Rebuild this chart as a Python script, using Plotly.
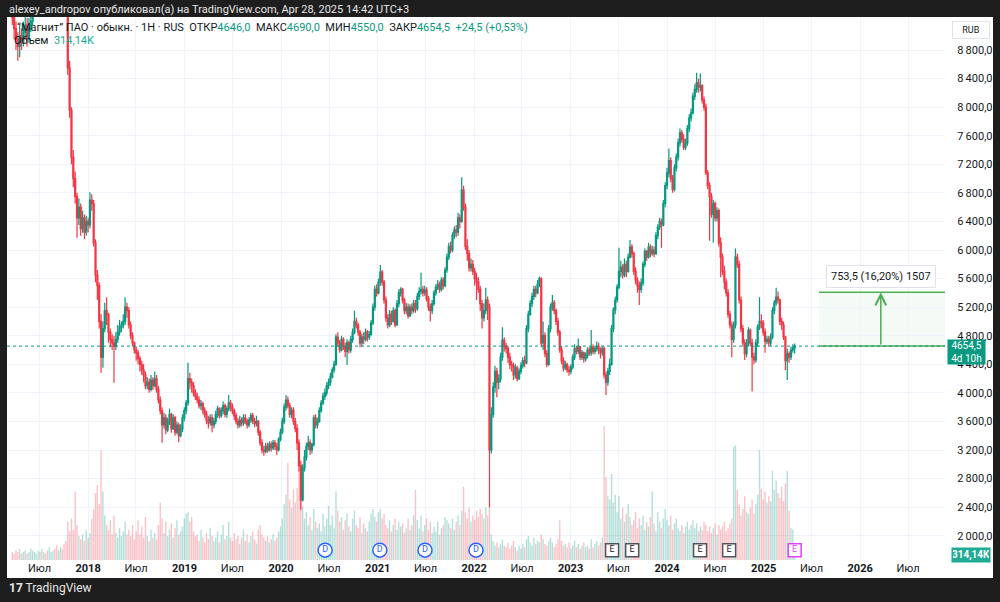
import plotly.graph_objects as go
import pandas as pd

# ---------------- data (weekly) ----------------
end_date = "2025-04-28"
first_open = 9300

close = [
    9250, 9100, 8950, 8850, 9000, 8900, 9050, 9150, 8950, 9100, 9200, 9350, 9500,           # 0-12
    9650, 9800, 9700, 9900, 10100, 10000, 9850, 9950, 10200, 10300, 10150, 9950, 10050,
    10200, 10100, 9900, 9700,                                                               # 13-29
    8550, 7960, 7300, 7000, 6750, 6450, 6600, 6300, 6450,                                   # 30-38
    6250, 6400, 6350, 6700, 6650, 6100, 5650, 5500, 5000, 4500,                             # 39-48
    4900, 5150, 5100, 4850, 4750, 4700, 4650, 4750,                                         # 49-56
    4850, 4920, 4950, 5000, 5200, 5150,                                                     # 57-62
    4950, 4800, 4700, 4600, 4560, 4480, 4400, 4320, 4250, 4100,                             # 63-72
    4150, 4050, 4180, 4100, 4200, 4050,                                                     # 73-78
    3900, 3750, 3550, 3650, 3480, 3600, 3700, 3500, 3650, 3450, 3550, 3400, 3500,           # 79-91
    3650, 3750, 3860, 4200, 4150, 4100, 4000, 3950,                                         # 92-99
    3900, 3820, 3850, 3760, 3700, 3620, 3580, 3650, 3550, 3600,                             # 100-109
    3700, 3780, 3680, 3750, 3820, 3700, 3780, 3860, 3800, 3750,                             # 110-119
    3680, 3600, 3550, 3620, 3580, 3650, 3600, 3550, 3620, 3680, 3600, 3570, 3600,           # 120-132
    3450, 3300, 3200, 3180, 3250, 3200, 3280, 3230, 3300, 3250, 3200, 3350, 3450,           # 133-145
    3600, 3800, 3900, 3820, 3700, 3760, 3600, 3500,                                         # 146-153
    3300, 2980, 2500,                                                                       # 154-156
    2950, 3100, 3250, 3300, 3200, 3280, 3650, 3550, 3600,                                   # 157-165
    3750, 3860, 3950, 4000, 4100, 4150, 4220,                                               # 166-172
    4320, 4400, 4780, 4700, 4600, 4750, 4650, 4580, 4700, 4600,                             # 173-182
    4750, 4850, 5000, 4950, 4850, 4700, 4780, 4750, 4850, 4780, 4820, 4980,                 # 183-194
    5200, 5450, 5400, 5550, 5690, 5550, 5300, 5050, 4950,                                   # 195-203
    5100, 5000, 5150, 4950, 5250, 5400, 5450,                                               # 204-210
    5300, 5150, 5200, 5080, 5200, 5150, 5250, 5180,                                         # 211-218
    5350, 5420, 5450, 5400, 5440, 5320, 5200, 5150, 5250,                                   # 219-227
    5400, 5480, 5520, 5450, 5580, 5500, 5720, 5900,                                         # 228-235
    6050, 6000, 6200, 6280, 6250, 6450, 6400, 6840, 6600,                                   # 236-244
    6050, 5950, 5750, 5800, 5700, 5600, 5550, 5450, 5250, 5050, 5150, 5300, 5200,           # 245-257
    3200, 3700, 4080, 4300, 4150, 4200,                                                     # 258-263
    4500, 4740, 4650,                                                                       # 264-266
    4620, 4500, 4400, 4380, 4250, 4350, 4200, 4300,                                         # 267-274
    4380, 4450, 4420, 4900, 5100,                                                           # 275-279
    5250, 5350, 5450, 5400, 5520, 5600, 4700,                                               # 280-286
    4800, 4550, 4400, 4900, 5200, 5260, 5150, 5000, 4850,                                   # 287-295
    4600, 4450, 4350, 4400, 4320, 4300, 4360,                                               # 296-302
    4500, 4620, 4580, 4640, 4500, 4560, 4480, 4520,                                         # 303-310
    4600, 4560, 4640, 4580, 4620, 4650, 4600, 4560, 4620,                                   # 311-319
    4250, 4150, 4300, 4400, 4900, 5160, 5300,                                               # 320-326
    5480, 5700, 5760, 5650, 5800, 5700, 5900, 6040, 5950,                                   # 327-335
    5700, 5580, 5500, 5450, 5540, 5800, 5980, 5900,                                         # 336-343
    6040, 5950, 6000, 5950, 6200, 6320, 6400, 6350, 6650,                                   # 344-352
    6900, 7080, 7250, 7000, 6850, 7150, 7300, 7500, 7640,                                   # 353-361
    7550, 7440, 7500, 7700, 7850, 7920, 8150,                                               # 362-368
    8250, 8340, 8280, 8300, 8100, 8000, 7080,                                               # 369-375
    6900, 6750, 6500, 6650, 6450, 6550, 6100, 5900,                                         # 376-383
    5700, 5550, 5400, 5100, 4950, 4750, 4950, 5900,                                         # 384-391
    5800, 5300, 4900, 4700, 4550, 4700, 4880,                                               # 392-398
    4700, 4500, 4460, 4700, 4920, 5000, 4980,                                               # 399-405
    4850, 4720, 4750, 4700, 4780, 5150, 5260,                                               # 406-412
    5340, 5300, 5000, 4950, 4780, 4450,                                                     # 413-418
    4550, 4500, 4600, 4630, 4654.5,                                                         # 419-423
]

high = [
    9450, 9350, 9200, 9050, 9150, 9100, 9200, 9300, 9250, 9250, 9350, 9500, 9700,
    9800, 9950, 9900, 10050, 10250, 10200, 10050, 10100, 10350, 10450, 10350, 10200, 10200,
    10350, 10300, 10150, 9950,
    9750, 8650, 8000, 7400, 7100, 6800, 6720, 6650, 6550,
    6500, 6480, 6450, 6810, 6780, 6700, 6150, 5720, 5550, 5100,
    5000, 5260, 5340, 5120, 4900, 4820, 4800, 4850,
    4950, 5020, 5000, 5100, 5340, 5260,
    5200, 5000, 4850, 4720, 4650, 4600, 4520, 4450, 4400, 4300,
    4220, 4200, 4250, 4220, 4300, 4250,
    4100, 3950, 3800, 3720, 3700, 3650, 3780, 3720, 3700, 3680, 3600, 3580, 3560,
    3700, 3800, 3900, 4420, 4280, 4200, 4150, 4050,
    4000, 3950, 3900, 3880, 3800, 3750, 3680, 3700, 3700, 3650,
    3750, 3820, 3800, 3800, 3880, 3850, 3820, 3970, 3900, 3850,
    3780, 3720, 3650, 3680, 3660, 3700, 3700, 3640, 3660, 3720, 3720, 3650, 3680,
    3620, 3480, 3350, 3260, 3300, 3300, 3320, 3320, 3340, 3340, 3300, 3380, 3500,
    3650, 3850, 3970, 3950, 3860, 3800, 3800, 3650,
    3560, 3350, 3050,
    3000, 3200, 3300, 3400, 3350, 3300, 3690, 3700, 3650,
    3800, 3900, 4000, 4060, 4150, 4200, 4280,
    4360, 4450, 4820, 4850, 4740, 4800, 4780, 4700, 4750, 4730,
    4800, 4900, 5150, 5050, 4980, 4880, 4830, 4850, 4900, 4880, 4870, 5020,
    5250, 5500, 5520, 5600, 5790, 5720, 5580, 5350, 5100,
    5160, 5150, 5200, 5180, 5300, 5450, 5480,
    5470, 5330, 5260, 5250, 5240, 5250, 5300, 5300,
    5400, 5480, 5680, 5500, 5500, 5480, 5360, 5250, 5300,
    5440, 5520, 5580, 5560, 5620, 5620, 5760, 5950,
    6100, 6120, 6250, 6330, 6350, 6520, 6500, 7020, 6900,
    6650, 6150, 6000, 5880, 5860, 5750, 5680, 5620, 5500, 5300, 5250, 5470, 5350,
    5250, 3800, 4150, 4380, 4350, 4260,
    4560, 4920, 4780,
    4700, 4660, 4560, 4450, 4420, 4400, 4380, 4340,
    4430, 4500, 4520, 4950, 5150,
    5300, 5400, 5500, 5500, 5580, 5630, 5620,
    5000, 4850, 4600, 4950, 5250, 5370, 5300, 5180, 5050,
    4880, 4650, 4500, 4450, 4420, 4380, 4400,
    4540, 4680, 4660, 4760, 4660, 4600, 4580, 4570,
    4640, 4640, 4880, 4680, 4660, 4720, 4700, 4640, 4660,
    4650, 4300, 4350, 4480, 4950, 5200, 5350,
    5520, 6030, 5850, 5800, 5880, 5850, 5950, 6140, 6080,
    5980, 5760, 5620, 5560, 5600, 5840, 6020, 6000,
    6100, 6080, 6060, 6050, 6250, 6360, 6450, 6440, 6700,
    6950, 7150, 7420, 7300, 7050, 7200, 7350, 7560, 7700,
    7680, 7620, 7560, 7750, 7900, 7980, 8200,
    8320, 8480, 8400, 8470, 8320, 8150, 8050,
    7120, 6950, 6800, 6700, 6680, 6600, 6580, 6180,
    5950, 5780, 5600, 5450, 5150, 5000, 5000, 6020,
    5950, 5850, 5350, 4950, 4750, 4750, 4920,
    4900, 4760, 4560, 4750, 4960, 5340, 5100,
    5020, 4900, 4800, 4800, 4830, 5200, 5300,
    5470, 5420, 5320, 5050, 5000, 4800,
    4620, 4580, 4650, 4680, 4690,
]

low = [
    9150, 8950, 8800, 8650, 8700, 8800, 8850, 8950, 8850, 8900, 9050, 9150, 9300,
    9450, 9600, 9550, 9650, 9850, 9900, 9700, 9800, 9900, 10150, 10000, 9800, 9900,
    10000, 9950, 9750, 9500,
    8450, 7850, 7200, 6880, 6650, 6170, 6350, 6200, 6240,
    6150, 6200, 6250, 6300, 6550, 6050, 5550, 5300, 4900, 4280,
    4350, 4850, 4950, 4700, 4640, 4600, 4140, 4600,
    4700, 4800, 4850, 4900, 4950, 5050,
    4900, 4750, 4650, 4550, 4450, 4400, 4300, 4250, 4150, 4050,
    4050, 4000, 4020, 4040, 4080, 4000,
    3850, 3700, 3300, 3500, 3420, 3450, 3550, 3440, 3480, 3400, 3420, 3310, 3380,
    3450, 3600, 3700, 3820, 4050, 4000, 3950, 3900,
    3850, 3780, 3760, 3700, 3650, 3560, 3500, 3540, 3450, 3500,
    3560, 3650, 3640, 3650, 3700, 3660, 3650, 3740, 3740, 3700,
    3620, 3560, 3500, 3510, 3530, 3540, 3560, 3500, 3520, 3580, 3560, 3520, 3530,
    3400, 3260, 3150, 3120, 3150, 3160, 3180, 3180, 3200, 3200, 3130, 3180, 3320,
    3420, 3560, 3750, 3780, 3650, 3640, 3550, 3450,
    3200, 2900, 2360,
    2480, 2900, 3050, 3200, 3130, 3150, 3250, 3500, 3500,
    3580, 3720, 3830, 3900, 3960, 4050, 4100,
    4200, 4280, 4380, 4650, 4560, 4580, 4600, 4500, 4390, 4550,
    4560, 4700, 4820, 4900, 4800, 4640, 4650, 4680, 4720, 4720, 4740, 4800,
    4950, 5150, 5350, 5380, 5500, 5500, 5250, 5000, 4900,
    4920, 4950, 4980, 4920, 4940, 5200, 5350,
    5250, 5100, 5100, 5040, 5060, 5100, 5120, 5120,
    5150, 5300, 5380, 5350, 5360, 5280, 5150, 5000, 5100,
    5220, 5360, 5440, 5400, 5420, 5450, 5480, 5680,
    5860, 5950, 5970, 6150, 6180, 6200, 6300, 6380, 6550,
    6000, 5850, 5700, 5700, 5650, 5500, 5300, 5400, 5150, 4900, 5000, 5100, 5020,
    2400, 3150, 3650, 4000, 3940, 4050,
    4150, 4450, 4580,
    4550, 4420, 4330, 4300, 4180, 4200, 4160, 4180,
    4260, 4340, 4360, 4400, 4850,
    5080, 5200, 5300, 5340, 5380, 5480, 4640,
    4600, 4500, 4360, 4380, 4850, 5150, 5100, 4950, 4800,
    4560, 4400, 4300, 4320, 4280, 4240, 4260,
    4330, 4460, 4540, 4540, 4460, 4460, 4420, 4440,
    4480, 4520, 4520, 4540, 4540, 4580, 4540, 4480, 4520,
    4200, 3970, 4100, 4250, 4380, 4850, 5100,
    5260, 5450, 5620, 5600, 5620, 5620, 5680, 5880, 5900,
    5650, 5520, 5400, 5230, 5400, 5500, 5760, 5850,
    5880, 5900, 5920, 5900, 5930, 6150, 6280, 6030, 6330,
    6600, 6850, 7020, 6950, 6800, 6820, 7100, 7250, 7450,
    7500, 7400, 7400, 7460, 7650, 7800, 7900,
    8100, 8200, 8200, 8220, 8050, 7950, 7050,
    6850, 6130, 6450, 6100, 6400, 6400, 6050, 5620,
    5650, 5450, 5350, 5050, 4900, 4500, 4700, 4900,
    5750, 5250, 4850, 4650, 4460, 4500, 4650,
    4650, 4020, 4400, 4420, 4650, 4880, 4900,
    4800, 4560, 4680, 4650, 4660, 4750, 5100,
    5220, 5250, 4950, 4880, 4740, 4320,
    4180, 4420, 4460, 4560, 4550,
]

volume_m = [
    0.5, 0.4, 0.6, 0.5, 0.7, 0.4, 0.5, 0.6, 0.4, 0.5, 0.7, 0.6, 0.5,
    0.4, 0.6, 0.5, 0.7, 0.5, 0.4, 0.6, 0.8, 0.5, 0.6, 0.7, 0.9, 0.6, 0.8, 0.7, 1.0, 1.2,
    2.4, 1.8, 2.6, 1.9, 4.3, 2.2, 1.5, 1.3, 1.6,
    1.2, 1.9, 1.4, 1.7, 2.6, 3.2, 4.2, 4.7, 3.5, 6.9,
    4.3, 2.8, 2.2, 1.9, 2.5, 1.6, 2.8, 1.7,
    1.4, 2.0, 1.5, 1.8, 2.4, 1.6,
    1.9, 1.5, 2.2, 1.3, 1.8, 2.5, 1.6, 2.1, 1.4, 2.7,
    1.5, 1.2, 1.9, 1.4, 1.7, 1.3,
    2.2, 3.6, 2.6, 1.7, 2.4, 1.5, 1.9, 2.3, 1.4, 2.0, 2.5, 1.6, 1.8,
    2.1, 2.6, 2.9, 3.0, 2.4, 2.7, 1.8, 1.5,
    1.6, 1.2, 1.9, 1.4, 1.1, 1.7, 1.3, 2.0, 1.5, 1.2,
    1.4, 1.8, 1.1, 1.6, 2.2, 1.3, 1.5, 2.4, 1.4, 1.2,
    1.7, 1.3, 1.5, 1.0, 1.4, 1.9, 1.2, 1.6, 1.1, 1.5, 1.8, 1.3, 1.0,
    1.9, 2.2, 1.6, 1.4, 1.2, 1.5, 1.1, 1.3, 1.6, 1.2, 1.4, 1.8, 2.1,
    2.6, 3.5, 4.1, 6.1, 3.8, 3.3, 4.4, 3.6,
    4.5, 5.7, 4.0,
    3.4, 2.6, 3.0, 2.2, 2.7, 1.9, 3.2, 2.4, 2.0,
    2.3, 1.8, 2.9, 2.1, 2.6, 3.4, 2.2,
    2.8, 2.0, 4.3, 3.1, 2.4, 2.7, 1.9, 2.5, 2.9, 2.1,
    1.8, 2.6, 3.1, 2.2, 2.0, 2.7, 1.7, 2.3, 2.0, 1.8, 2.4, 2.9,
    3.2, 2.7, 2.4, 3.0, 3.2, 2.6, 2.9, 2.2, 2.0,
    2.5, 1.8, 2.2, 2.6, 1.9, 2.4, 2.1,
    2.3, 1.7, 2.0, 2.6, 1.9, 2.2, 2.8, 4.4,
    2.5, 2.0, 2.8, 1.8, 2.2, 2.6, 1.9, 2.4, 1.7,
    2.1, 1.8, 2.4, 1.6, 2.0, 2.2, 2.7, 2.5,
    2.3, 2.0, 2.6, 1.9, 2.4, 2.8, 2.2, 3.1, 4.6,
    3.0, 2.6, 3.3, 2.4, 2.8, 2.5, 3.1, 2.7, 3.2, 2.9, 2.6, 3.3, 2.8,
    3.4, 1.6, 1.2, 0.9, 1.1, 0.8,
    1.0, 1.3, 0.9,
    0.8, 1.1, 0.7, 0.9, 1.2, 0.8, 0.6, 0.9,
    0.7, 1.0, 0.8, 1.3, 1.5,
    1.1, 0.9, 1.4, 1.0, 1.2, 1.1, 1.6,
    1.3, 1.0, 0.9, 1.2, 1.4, 1.1, 0.8, 1.0, 1.3,
    2.5, 1.2, 0.9, 1.0, 0.8, 1.1, 0.7,
    0.9, 1.2, 0.8, 1.0, 0.7, 0.9, 1.1, 0.8,
    0.9, 0.7, 1.3, 0.8, 1.0, 1.2, 0.9, 1.1, 1.4,
    8.4, 5.2, 4.0, 3.8, 5.4, 3.6, 4.1,
    3.0, 4.0, 2.6, 3.3, 2.4, 2.9, 3.5, 2.7, 2.2,
    2.5, 3.0, 2.0, 2.6, 2.2, 2.8, 1.9, 2.4,
    2.1, 2.7, 4.3, 2.3, 1.8, 3.0, 2.4, 2.0, 2.6,
    3.2, 2.5, 2.2, 2.8, 1.9, 2.3, 2.6, 2.0, 1.8,
    2.2, 1.7, 2.1, 2.4, 1.9, 2.2, 2.5,
    2.0, 2.3, 1.8, 2.1, 1.9, 2.4, 2.2,
    1.8, 2.1, 1.7, 2.0, 2.3, 1.6, 2.2, 1.9,
    2.1, 2.4, 1.8, 2.0, 2.3, 2.6, 7.1, 7.2,
    4.4, 3.5, 2.8, 3.2, 4.0, 3.0, 2.9,
    3.3, 3.8, 2.9, 3.5, 4.1, 6.9, 4.5,
    3.8, 4.3, 3.6, 4.0, 3.7, 5.6, 4.4,
    5.0, 4.2, 3.9, 4.6, 3.7, 4.8,
    5.6, 3.1, 2.0, 1.9, 0.31414,
]

x_tick_dates = ["2017-07-01", "2018-01-01", "2018-07-01", "2019-01-01", "2019-07-01",
                "2020-01-01", "2020-07-01", "2021-01-01", "2021-07-01", "2022-01-01",
                "2022-07-01", "2023-01-01", "2023-07-01", "2024-01-01", "2024-07-01",
                "2025-01-01", "2025-07-01", "2026-01-01", "2026-07-01"]
x_tick_labels = ["Июл", "2018", "Июл", "2019", "Июл", "2020", "Июл", "2021", "Июл", "2022",
                 "Июл", "2023", "Июл", "2024", "Июл", "2025", "Июл", "2026", "Июл"]
price_ticks = [2000, 2400, 2800, 3200, 3600, 4000, 4400, 4800, 5200, 5600,
               6000, 6400, 6800, 7200, 7600, 8000, 8400, 8800]

dividend_dates = ["2020-06-16", "2021-01-09", "2021-06-29", "2022-01-08"]
earnings_dates = ["2023-06-07", "2023-08-22", "2024-05-05", "2024-08-23"]
next_earnings_dates = ["2025-04-28"]

last_price = 4654.5
measure_delta = 753.5
measure_label = "753,5 (16,20%) 1507"
measure_start = "2025-07-29"
measure_arrow = "2026-03-20"
last_volume_label = "314,14K"

# ---------------- build ----------------
n = len(close)
assert len(high) == n and len(low) == n and len(volume_m) == n, (len(close), len(high), len(low), len(volume_m))
dates = pd.date_range(end=end_date, periods=n, freq="W-MON")
opens = [first_open] + close[:-1]
hi = [max(h, o, c) for h, o, c in zip(high, opens, close)]
lo = [min(l, o, c) for l, o, c in zip(low, opens, close)]

UP, DN = "#089981", "#f23645"
vol_colors = ["rgba(8,153,129,0.30)" if c >= o else "rgba(242,54,69,0.30)" for o, c in zip(opens, close)]

FONT = "Roboto, 'Noto Sans', sans-serif"
X_RANGE = ["2017-02-28", "2026-11-18"]
PRICE_RANGE = [1660, 9262]
VOL_MAX = 34.1


def px_x(p):
    return (p - 7) / 938.0


def px_y(p):
    return (560 - p) / 543.0


fig = go.Figure()

fig.add_trace(go.Bar(x=dates, y=volume_m, marker=dict(color=vol_colors, line=dict(width=0)),
                     yaxis="y", hoverinfo="skip", showlegend=False))

fig.add_trace(go.Scatter(x=pd.to_datetime(dividend_dates), y=[0.62] * len(dividend_dates),
                         mode="markers+text", text=["D"] * len(dividend_dates),
                         textposition="middle center",
                         textfont=dict(color="#2962ff", size=9, family=FONT),
                         marker=dict(symbol="circle", size=14, color="white",
                                     line=dict(color="#2962ff", width=1.5)),
                         yaxis="y", hoverinfo="skip", showlegend=False))
fig.add_trace(go.Scatter(x=pd.to_datetime(earnings_dates), y=[0.62] * len(earnings_dates),
                         mode="markers+text", text=["E"] * len(earnings_dates),
                         textposition="middle center",
                         textfont=dict(color="#131722", size=9, family=FONT),
                         marker=dict(symbol="square", size=13, color="white",
                                     line=dict(color="#50535e", width=1.5)),
                         yaxis="y", hoverinfo="skip", showlegend=False))
fig.add_trace(go.Scatter(x=pd.to_datetime(next_earnings_dates), y=[0.62] * len(next_earnings_dates),
                         mode="markers+text", text=["E"] * len(next_earnings_dates),
                         textposition="middle center",
                         textfont=dict(color="#e040fb", size=9, family=FONT),
                         marker=dict(symbol="square", size=13, color="white",
                                     line=dict(color="#e040fb", width=1.5)),
                         yaxis="y", hoverinfo="skip", showlegend=False))

fig.add_trace(go.Candlestick(x=dates, open=opens, high=hi, low=lo, close=close,
                             increasing=dict(line=dict(color=UP, width=1.2), fillcolor=UP),
                             decreasing=dict(line=dict(color=DN, width=1.2), fillcolor=DN),
                             whiskerwidth=0, yaxis="y2", hoverinfo="skip", showlegend=False))

shapes = [
    dict(type="rect", xref="paper", yref="paper", x0=0, x1=px_x(993), y0=px_y(578), y1=1,
         fillcolor="white", line=dict(width=0), layer="below"),
    dict(type="rect", xref="x", yref="y2", x0=measure_start, x1=X_RANGE[1],
         y0=last_price, y1=last_price + measure_delta,
         fillcolor="rgba(76,175,80,0.06)", line=dict(width=0), layer="below"),
    dict(type="line", xref="x", yref="y2", x0=measure_start, x1=X_RANGE[1],
         y0=last_price + measure_delta, y1=last_price + measure_delta,
         line=dict(color="#4caf50", width=1.5)),
    dict(type="line", xref="x", yref="y2", x0=measure_start, x1=X_RANGE[1],
         y0=last_price, y1=last_price, line=dict(color="#4caf50", width=1.5)),
    dict(type="line", xref="paper", yref="y2", x0=0, x1=1, y0=last_price, y1=last_price,
         line=dict(color=UP, width=1, dash="dot")),
]

annotations = [
    dict(xref="paper", yref="paper", x=0, y=px_y(9), xanchor="left", yanchor="middle",
         text="alexey_andropov опубликовал(а) на TradingView.com, Apr 28, 2025 14:42 UTC+3",
         showarrow=False, font=dict(color="#e6e6e6", size=11, family=FONT)),
    dict(xref="paper", yref="paper", x=px_x(15), y=px_y(28), xanchor="left", yanchor="middle",
         text=("“Магнит” ПАО · обыкн. · 1H · RUS\u00a0\u00a0"
               "ОТКР<span style='color:#089981'>4646,0</span>\u00a0\u00a0"
               "МАКС<span style='color:#089981'>4690,0</span>\u00a0\u00a0"
               "МИН<span style='color:#089981'>4550,0</span>\u00a0\u00a0"
               "ЗАКР<span style='color:#089981'>4654,5</span>\u00a0\u00a0"
               "<span style='color:#089981'>+24,5 (+0,53%)</span>"),
         showarrow=False, font=dict(color="#131722", size=11, family=FONT)),
    dict(xref="paper", yref="paper", x=px_x(12), y=px_y(40), xanchor="left", yanchor="middle",
         text="Объем\u00a0\u00a0<span style='color:#22ab94'>" + last_volume_label + "</span>",
         showarrow=False, font=dict(color="#131722", size=11, family=FONT)),
    dict(xref="paper", yref="paper", x=px_x(971), y=px_y(30), xanchor="center", yanchor="middle",
         text="RUB", showarrow=False, font=dict(color="#131722", size=9, family=FONT),
         bgcolor="white", bordercolor="#e0e3eb", borderwidth=1, borderpad=3, width=30),
    dict(xref="paper", yref="y2", x=1, y=last_price, xanchor="left", yanchor="top", xshift=2, yshift=7,
         text="4654,5<br>4d 10h", showarrow=False, align="center",
         font=dict(color="white", size=10, family=FONT), bgcolor=UP, borderpad=0, width=37),
    dict(xref="paper", yref="y", x=1, y=volume_m[-1], xanchor="left", yanchor="middle", xshift=6,
         text="<b>" + last_volume_label + "</b>", showarrow=False,
         font=dict(color="white", size=10, family=FONT), bgcolor="#22ab94", borderpad=1, width=36),
    dict(xref="x", yref="y2", x=measure_arrow, y=last_price + measure_delta,
         axref="x", ayref="y2", ax=measure_arrow, ay=last_price,
         text="", showarrow=True, arrowhead=5, arrowsize=1.4, arrowwidth=1.5, arrowcolor="#4caf50"),
    dict(xref="x", yref="y2", x=measure_arrow, y=last_price + measure_delta, yshift=16,
         text=measure_label,
         showarrow=False, font=dict(color="#131722", size=11, family=FONT),
         bgcolor="white", bordercolor="#e0e3eb", borderwidth=1, borderpad=4),
    dict(xref="paper", yref="paper", x=0, y=px_y(588), xanchor="left", yanchor="middle",
         text="<b>17</b> TradingView", showarrow=False,
         font=dict(color="#e6e6e6", size=12, family=FONT)),
]

price_text = [f"{v:,.1f}".replace(",", "\u2009").replace(".", ",") for v in price_ticks]
x_text = [("<b>" + t + "</b>") if t.isdigit() else t for t in x_tick_labels]

fig.update_layout(
    width=1000, height=602,
    margin=dict(l=7, r=55, t=17, b=42),
    paper_bgcolor="#1e1e1e", plot_bgcolor="rgba(0,0,0,0)",
    bargap=0.25, boxgap=0.2, showlegend=False, hovermode=False,
    shapes=shapes, annotations=annotations,
    font=dict(family=FONT, color="#131722", size=11),
    xaxis=dict(type="date", range=X_RANGE, rangeslider=dict(visible=False),
               tickvals=x_tick_dates, ticktext=x_text, showgrid=True, gridcolor="#f0f3fa",
               zeroline=False, showline=False, ticks="", tickfont=dict(size=11, color="#131722")),
    yaxis=dict(range=[0, VOL_MAX], visible=False, showgrid=False, zeroline=False, fixedrange=True),
    yaxis2=dict(range=PRICE_RANGE, overlaying="y", side="right", tickvals=price_ticks,
                ticktext=price_text, showgrid=True, gridcolor="#f0f3fa", zeroline=False,
                showline=False, ticks="outside", ticklen=9, tickcolor="rgba(0,0,0,0)",
                tickfont=dict(size=11, color="#131722")),
)

fig.write_html("out.html")
